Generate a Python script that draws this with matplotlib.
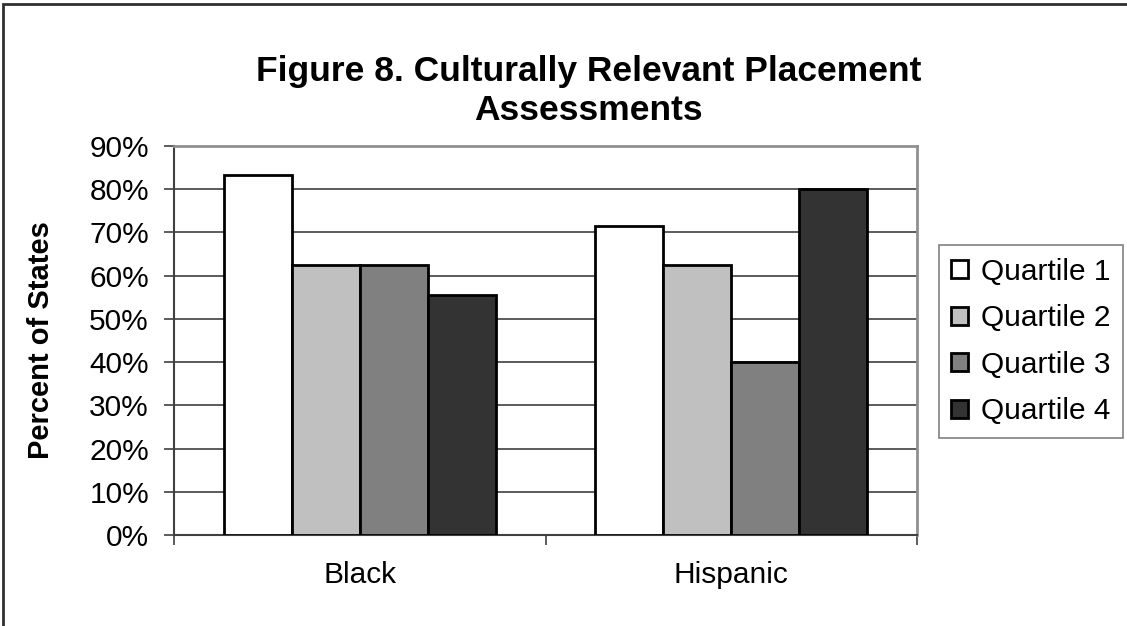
import numpy as np
import matplotlib
matplotlib.use("Agg")
from matplotlib import pyplot as plt
from matplotlib.ticker import PercentFormatter, FixedLocator
from matplotlib.patches import Rectangle

groups = ["Black", "Hispanic"]
quartiles = ["Quartile 1", "Quartile 2", "Quartile 3", "Quartile 4"]
# percent of states, one list per quartile (Black, Hispanic)
q1 = [83.3, 71.4]
q2 = [62.5, 62.5]
q3 = [62.5, 40.0]
q4 = [55.6, 80.0]
yticks = [0, 10, 20, 30, 40, 50, 60, 70, 80, 90]

series = [q1, q2, q3, q4]
colors = ["#FFFFFF", "#C0C0C0", "#808080", "#333333"]

plt.rcParams["font.family"] = ["Liberation Sans", "DejaVu Sans"]

fig = plt.figure(figsize=(11.27, 6.26), dpi=100)
ax = fig.add_axes([0.1544, 0.1454, 0.6593, 0.6214])

x = np.arange(len(groups))
w = 0.183
for i, vals in enumerate(series):
    ax.bar(x + (i - 1.5) * w, vals, w, color=colors[i], edgecolor="black",
           linewidth=2, label=quartiles[i], zorder=3)

ax.set_xlim(-0.5, 1.5)
ax.set_ylim(0, 90)
ax.set_yticks(yticks)
ax.yaxis.set_major_formatter(PercentFormatter(decimals=0))
ax.yaxis.grid(True, color="#404040", linewidth=1.2, zorder=0)

# category labels in the middle, tick marks on the boundaries
ax.set_xticks(x)
ax.set_xticklabels(groups)
ax.xaxis.set_minor_locator(FixedLocator([-0.5, 0.5, 1.5]))
ax.tick_params(axis="x", which="major", length=0, pad=19, labelsize=21.5)
ax.tick_params(axis="x", which="minor", length=7, width=1.2, color="#404040", direction="out")
ax.tick_params(axis="y", length=7, width=1.2, color="#404040", direction="out", pad=11, labelsize=21.5)

for s in ["left", "bottom"]:
    ax.spines[s].set_color("#404040")
    ax.spines[s].set_linewidth(1.5)
for s in ["top", "right"]:
    ax.spines[s].set_color("#909090")
    ax.spines[s].set_linewidth(2)

ax.set_ylabel("Percent of States", fontsize=21, fontweight="bold")
ax.yaxis.set_label_coords(-0.160, 0.5)

leg = ax.legend(loc="upper left", bbox_to_anchor=(1.029, 0.745), fontsize=21.5,
                frameon=True, fancybox=False, edgecolor="#606060",
                handlelength=0.55, handleheight=0.55, handletextpad=0.45,
                labelspacing=0.62, borderpad=0.42, borderaxespad=0)
leg.get_frame().set_linewidth(1.2)

fig.text(0.522, 1 - 91 / 626, "Figure 8. Culturally Relevant Placement\nAssessments",
         ha="center", va="center", fontsize=25.5, fontweight="bold", linespacing=1.25)

# chart border (top and left edges)
fig.add_artist(Rectangle((0.003, -0.1), 1.2, 1.093, transform=fig.transFigure,
                         fill=False, edgecolor="#303030", linewidth=2))

fig.savefig("out.png", dpi=100)
